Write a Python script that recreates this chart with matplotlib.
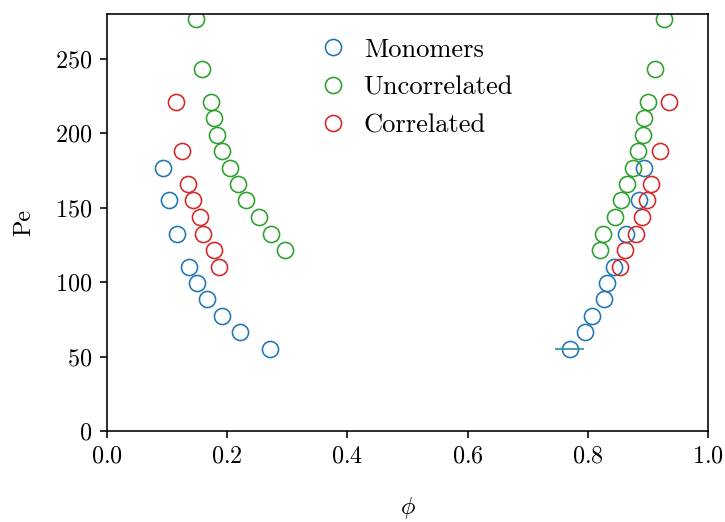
import matplotlib
matplotlib.use("Agg")
import matplotlib.pyplot as plt

plt.rcParams['font.family'] = 'serif'
plt.rcParams['font.serif'] = ['cmr10']
plt.rcParams['mathtext.fontset'] = 'cm'
plt.rcParams['axes.formatter.use_mathtext'] = True
plt.rcParams['font.size'] = 12

# Monomers: low and high density branches
mono_pe = [176.8, 154.9, 132.7, 110.5, 99.5, 88.5, 77.3, 66.3, 55.1]
mono_phi_lo = [0.093, 0.103, 0.117, 0.137, 0.151, 0.167, 0.192, 0.222, 0.271]
mono_phi_hi = [0.893, 0.885, 0.863, 0.844, 0.831, 0.826, 0.807, 0.795, 0.770]

# Uncorrelated dimers
unc_pe = [276.6, 243.4, 221.2, 210.0, 199.1, 188.0, 176.8, 165.8, 154.9,
          143.6, 132.7, 121.7]
unc_phi_lo = [0.149, 0.159, 0.173, 0.179, 0.184, 0.192, 0.205, 0.218, 0.232,
              0.253, 0.274, 0.296]
unc_phi_hi = [0.927, 0.911, 0.899, 0.893, 0.891, 0.883, 0.875, 0.865, 0.855,
              0.845, 0.825, 0.820]

# Correlated dimers
cor_pe = [221.2, 188.0, 165.8, 154.9, 143.6, 132.7, 121.7, 110.5]
cor_phi_lo = [0.115, 0.125, 0.136, 0.143, 0.156, 0.161, 0.179, 0.187]
cor_phi_hi = [0.935, 0.919, 0.904, 0.898, 0.889, 0.879, 0.862, 0.854]

# uncertainty on the lowest Pe point of the dense monomer branch
err_phi = 0.770
err_pe = 55.1
err_dphi = 0.024

fig = plt.figure(figsize=(5, 3.6), dpi=145)
ax = fig.add_axes([0.147, 0.174, 0.830, 0.799])

ms = 8
mew = 0.8
series = [
    (mono_phi_lo, mono_phi_hi, mono_pe, 'C0', 'Monomers'),
    (unc_phi_lo, unc_phi_hi, unc_pe, 'C2', 'Uncorrelated'),
    (cor_phi_lo, cor_phi_hi, cor_pe, 'C3', 'Correlated'),
]
for lo, hi, pe, c, name in series:
    ax.plot(lo, pe, 'o', mfc='none', mec=c, ms=ms, mew=mew, label=name)
    ax.plot(hi, pe, 'o', mfc='none', mec=c, ms=ms, mew=mew)

ax.errorbar([err_phi], [err_pe], xerr=[err_dphi], fmt='none',
            ecolor='#1f9090', elinewidth=0.8)

ax.set_xlim(0, 1.0)
ax.set_ylim(0, 280)
ax.set_yticks([0, 50, 100, 150, 200, 250])
ax.set_xlabel(r'$\phi$', labelpad=13.5)
ax.set_ylabel('Pe', labelpad=10)

ax.legend(loc='upper center', bbox_to_anchor=(0.504, 1.0), frameon=False,
          numpoints=1, fontsize=13.2, handletextpad=0.15, labelspacing=0.53)

fig.savefig('out.png', dpi=145)
